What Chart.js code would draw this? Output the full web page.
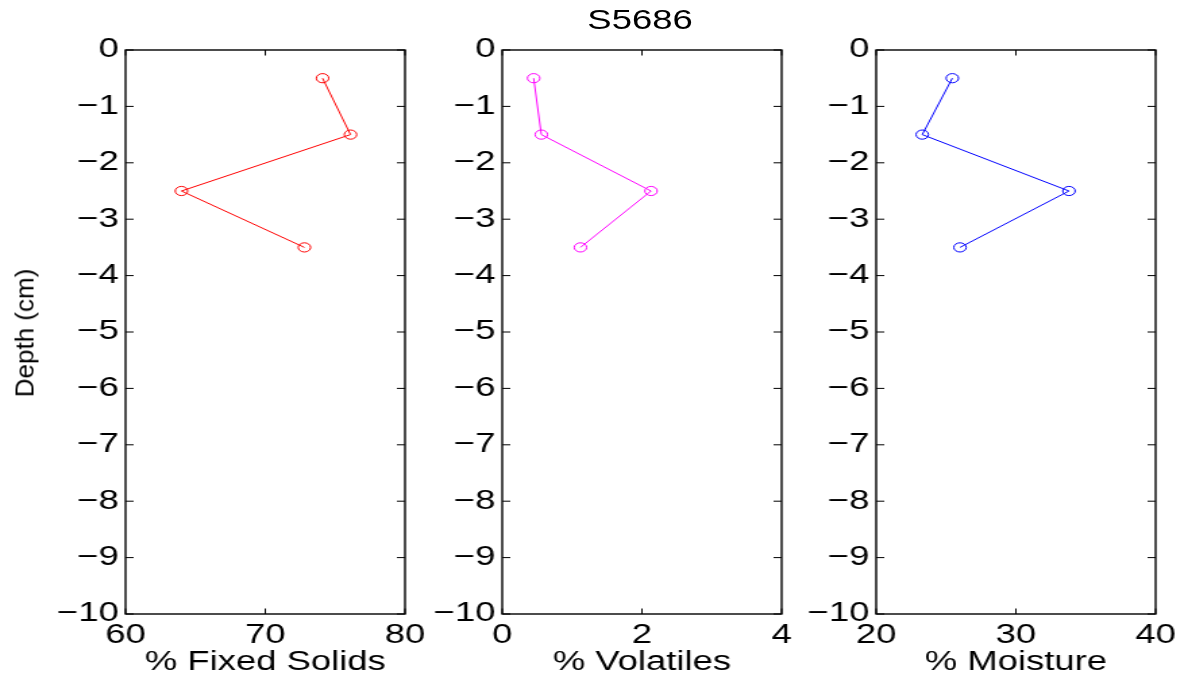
<!DOCTYPE html>
<html lang="en">
<head>
  <title>S5686</title>
  <meta name="viewport" content="width=device-width, initial-scale=1">
  <script src="https://cdn.jsdelivr.net/npm/chart.js@4.4.1/dist/chart.umd.min.js"></script>
  <style>
    html, body { margin: 0; padding: 0; background: #fff; overflow: hidden; }
    /* the original figure is stretched sideways, so the whole page is too */
    #page { position: absolute; left: 0; top: 0; width: 876px; height: 677px;
            transform: scaleX(1.35); transform-origin: 0 0; }
    #page canvas { position: absolute; top: 0; }
    #title { position: absolute; left: 374.1px; width: 200px; top: 4px; text-align: center;
             font: 27px "Liberation Sans", Arial, sans-serif; line-height: 32.4px; color: #000; }
    #ylab { position: absolute; left: 25px; top: 333px; transform: translate(-50%, -50%) rotate(-90deg);
            font: 26px "Liberation Sans", Arial, sans-serif; white-space: nowrap; color: #000; }
  </style>
</head>
<body>

<div id="page">
  <div id="title">S5686</div>
  <canvas id="c1" width="324" height="677" style="left:0.3px"></canvas>
  <canvas id="c2" width="324" height="677" style="left:278.5px"></canvas>
  <canvas id="c3" width="324" height="677" style="left:556.4px"></canvas>
</div>
<div id="ylab">Depth (cm)</div>

<script>
// depth of each sample (cm)
const depth = [-0.5, -1.5, -2.5, -3.5];
// values per depth
const fixedSolids = [74.1, 76.1, 64.0, 72.8];
const volatiles = [0.45, 0.56, 2.13, 1.12];
const moisture = [25.45, 23.3, 33.8, 26.0];

const FONT = {family: '"Liberation Sans", Arial, sans-serif', size: 27};

// box round the plot + matlab-style ticks pointing inwards
const frame = {
  id: 'frame',
  afterDatasetsDraw(chart) {
    const {ctx, chartArea: a, scales: {x, y}} = chart;
    ctx.save();
    ctx.strokeStyle = '#000';
    ctx.lineWidth = 1;
    ctx.beginPath();
    x.ticks.forEach(t => {
      const px = x.getPixelForValue(t.value);
      ctx.moveTo(px, a.bottom); ctx.lineTo(px, a.bottom - 5.5);
      ctx.moveTo(px, a.top); ctx.lineTo(px, a.top + 5.5);
    });
    y.ticks.forEach(t => {
      const py = y.getPixelForValue(t.value);
      ctx.moveTo(a.left, py); ctx.lineTo(a.left + 6, py);
      ctx.moveTo(a.right, py); ctx.lineTo(a.right - 6, py);
    });
    ctx.stroke();
    ctx.lineWidth = 1.4;
    ctx.strokeRect(a.left, a.top, a.right - a.left, a.bottom - a.top);
    ctx.restore();
  }
};

function makeChart(id, values, color, xmin, xmax, step, label) {
  return new Chart(document.getElementById(id), {
    type: 'scatter',
    data: {
      datasets: [{
        data: values.map((v, i) => ({x: v, y: depth[i]})),
        showLine: true,
        borderColor: color,
        borderWidth: 1,
        pointStyle: 'circle',
        pointRadius: 4.6,
        pointBorderWidth: 1,
        pointBorderColor: color,
        pointBackgroundColor: 'rgba(0,0,0,0)'
      }]
    },
    options: {
      responsive: false,
      animation: false,
      layout: {padding: {top: 50, right: 24, bottom: 0, left: 0}},
      plugins: {legend: {display: false}, tooltip: {enabled: false}},
      scales: {
        x: {
          type: 'linear', min: xmin, max: xmax,
          grid: {display: false, drawTicks: false},
          border: {display: false},
          ticks: {stepSize: step, color: '#000', font: FONT, padding: 5, maxRotation: 0},
          title: {display: true, text: label, color: '#000', font: FONT, padding: {top: 0, bottom: -2}},
          afterFit(s) { s.height = 63; s.paddingLeft = 0; s.paddingRight = 0; }
        },
        y: {
          type: 'linear', min: -10, max: 0,
          grid: {display: false, drawTicks: false},
          border: {display: false},
          ticks: {
            stepSize: 1, color: '#000', font: FONT, padding: 5,
            callback: v => v < 0 ? '\u2212' + Math.abs(v) : '' + v
          },
          afterFit(s) { s.width = 93; s.paddingTop = 0; s.paddingBottom = 0; }
        }
      }
    },
    plugins: [frame]
  });
}

makeChart('c1', fixedSolids, '#ff0000', 60, 80, 10, '% Fixed Solids');
makeChart('c2', volatiles, '#ff00ff', 0, 4, 2, '% Volatiles');
makeChart('c3', moisture, '#0000ff', 20, 40, 10, '% Moisture');
</script>
</body>
</html>
